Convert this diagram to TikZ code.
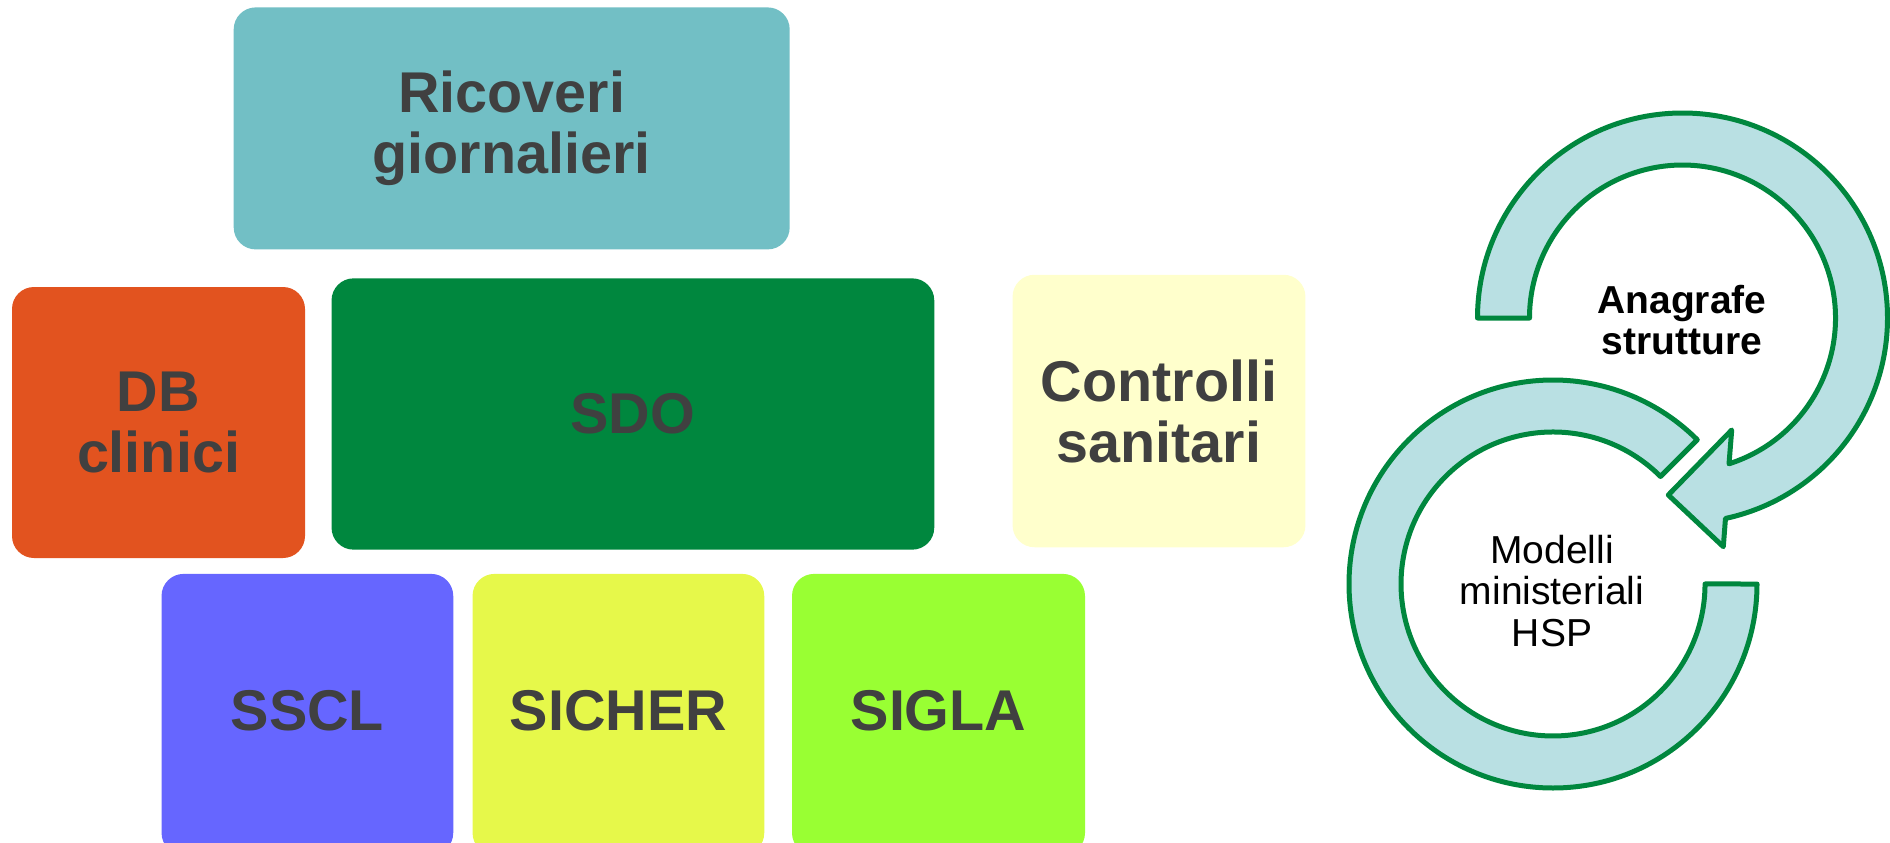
\documentclass[tikz,border=0pt]{standalone}
\usepackage{fontspec}
\setmainfont{Liberation Sans}
\definecolor{txtgray}{HTML}{404040}
\definecolor{ricc}{HTML}{72BFC5}
\definecolor{dbc}{HTML}{E2531F}
\definecolor{sdoc}{HTML}{00873E}
\definecolor{ctrlc}{HTML}{FFFFCC}
\definecolor{ssclc}{HTML}{6666FF}
\definecolor{sicherc}{HTML}{E6F84A}
\definecolor{siglac}{HTML}{99FF33}
\definecolor{arrfill}{HTML}{B9E0E3}
\definecolor{arrline}{HTML}{00873E}
\begin{document}
\begin{tikzpicture}[x=1pt,y=-1pt,
  box/.style={rounded corners=22pt, inner sep=0pt, align=center, text=txtgray,
    font=\bfseries\fontsize{57.5}{61}\selectfont},
  lowbox/.style={box, minimum height=281pt},
  cyc/.style={fill=arrfill, draw=arrline, line width=5pt, line join=round},
  cyctext/.style={align=center, text=black, inner sep=0pt}]
\useasboundingbox (0,0) rectangle (1890,843);
% boxes
\node[box, fill=ricc, minimum width=556pt, minimum height=242pt] (ric) at (511.7,128.4) {Ricoveri\\giornalieri};
\node[box, fill=dbc, minimum width=293pt, minimum height=271pt] (db) at (158.5,422.5) {DB\\clinici};
\node[box, fill=sdoc, minimum width=602.7pt, minimum height=271.3pt] (sdo) at (632.9,414) {SDO};
\node[box, fill=ctrlc, minimum width=292.9pt, minimum height=272.5pt] (ctrl) at (1159,411) {Controlli\\sanitari};
\node[lowbox, fill=ssclc, minimum width=291.7pt] (sscl) at (307.4,714.4) {\raisebox{7pt}{SSCL}};
\node[lowbox, fill=sicherc, minimum width=291.7pt] (sicher) at (618.4,714.4) {\raisebox{7pt}{SICHER}};
\node[lowbox, fill=siglac, minimum width=293pt] (sigla) at (938.5,714.4) {\raisebox{7pt}{SIGLA}};
% circular arrows
\draw[cyc] (1757,584) arc[start angle=0, end angle=315, radius=204]
  -- (1660.5,476.5) arc[start angle=315, end angle=0, radius=152] -- cycle;
\draw[cyc] (1477.5,318) arc[start angle=180, end angle=437.9, radius=205]
  -- (1723.3,546.7) -- (1668.3,495) -- (1731.7,430) -- (1729,463.8)
  arc[start angle=432.3, end angle=180, radius=153] -- cycle;
\node[cyctext, font=\bfseries\fontsize{39}{41.5}\selectfont] (anag) at (1682,320) {Anagrafe\\strutture};
\node[cyctext, font=\fontsize{39}{41.5}\selectfont] (mod) at (1552,591) {Modelli\\ministeriali\\HSP};
\end{tikzpicture}
\end{document}
